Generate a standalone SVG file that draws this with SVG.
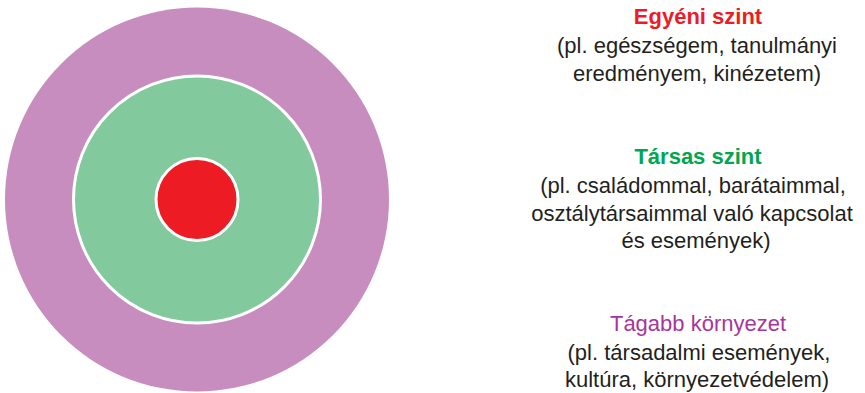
<svg xmlns="http://www.w3.org/2000/svg" width="865" height="393" viewBox="0 0 865 393">
<style>
text{font-family:"Liberation Sans",Arial,sans-serif;font-size:22px;text-anchor:middle}
.b{fill:#231F20}
.t1{fill:#ED1C24;font-weight:bold}
.t2{fill:#00A651;font-weight:bold}
.t3{fill:#A8359B}
.ring{stroke:#FFFFFF;stroke-width:3}
</style>
<rect width="865" height="393" fill="#FFFFFF"/>
<g id="outer">
<circle cx="197" cy="199.5" r="192" fill="#C78DBF"/>
</g>
<g id="middle">
<circle class="ring" cx="197" cy="199.5" r="123.5" fill="#82C99E"/>
</g>
<g id="inner">
<circle class="ring" cx="197" cy="199.5" r="41" fill="#ED1C24"/>
</g>
<g id="label-egyeni">
<text class="t1" x="698" y="24">Egyéni szint</text>
<text class="b" x="697" y="53">(pl. egészségem, tanulmányi</text>
<text class="b" x="697" y="81">eredményem, kinézetem)</text>
</g>
<g id="label-tarsas">
<text class="t2" x="698" y="164">Társas szint</text>
<text class="b" x="693" y="193">(pl. családommal, barátaimmal,</text>
<text class="b" x="692" y="221">osztálytársaimmal való kapcsolat</text>
<text class="b" x="696" y="248">és események)</text>
</g>
<g id="label-tagabb">
<text class="t3" x="698" y="331">Tágabb környezet</text>
<text class="b" x="699" y="360">(pl. társadalmi események,</text>
<text class="b" x="697" y="387">kultúra, környezetvédelem)</text>
</g>
</svg>
